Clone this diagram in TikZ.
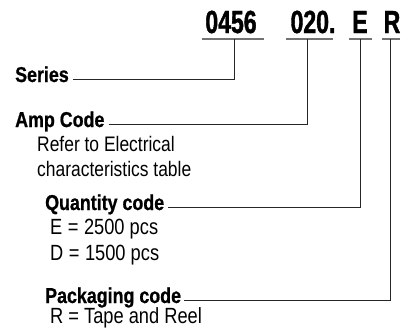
\documentclass[tikz,border=0pt]{standalone}
\usepackage{fontspec}
\setmainfont{Liberation Sans}[FakeStretch=0.83, BoldFeatures={FakeBold=0.8}]
\newfontfamily\codefont{Liberation Sans}[FakeStretch=0.72, BoldFeatures={FakeBold=1.2}]
\newcommand{\eqsp}{\hspace{5.5pt}=\hspace{5.5pt}}
\begin{document}
\begin{tikzpicture}[x=1pt,y=1pt,
  code/.style={font=\codefont\bfseries\fontsize{32}{34}\selectfont, inner sep=0pt, anchor=base},
  uline/.style={fill=black!55, draw=none, inner sep=0pt, minimum height=2pt},
  lbl/.style={font=\bfseries\fontsize{21.5}{23}\selectfont, inner sep=0pt, anchor=base west},
  txt/.style={font=\fontsize{21}{23}\selectfont, inner sep=0pt, anchor=base west},
  txtb/.style={font=\fontsize{22}{24}\selectfont, inner sep=0pt, anchor=base west},
  conn/.style={draw=black!85, line width=0.9pt}
]
\useasboundingbox (0,0) rectangle (402,-327);
% top code
\node[code] (t1) at (231,-33) {0456};
\node[code] (t2) at (313,-33) {020.};
\node[code] (t3) at (360,-33) {E};
\node[code] (t4) at (392,-33) {R};
\node[uline, minimum width=62pt] (u1) at (233,-39) {};
\node[uline, minimum width=47pt] (u2) at (309.5,-39) {};
\node[uline, minimum width=23pt] (u3) at (360.5,-39) {};
\node[uline, minimum width=18pt] (u4) at (391,-39) {};
% labels
\node[lbl] (series) at (15,-82) {Series};
\node[lbl] (amp) at (15,-127) {Amp Code};
\node[txt] (amp1) at (37,-151) {Refer to Electrical};
\node[txt] (amp2) at (37,-176) {characteristics table};
\node[lbl] (qty) at (45,-210) {Quantity code};
\node[txtb] (qty1) at (50,-234) {E\eqsp{}2500 pcs};
\node[txtb] (qty2) at (50,-260) {D\eqsp{}1500 pcs};
\node[lbl] (pkg) at (45,-303) {Packaging code};
\node[txtb] (pkg1) at (50,-323) {R = Tape and Reel};
% connectors
\coordinate (v1) at (234,-39);
\coordinate (v2) at (307,-39);
\coordinate (v3) at (360,-39);
\coordinate (v4) at (390,-39);
\draw[conn] ([xshift=4pt]series.mid east) -| (v1);
\draw[conn] ([xshift=4pt]amp.mid east) -| (v2);
\draw[conn] ([xshift=4pt]qty.mid east) -| (v3);
\draw[conn] ([xshift=3pt]pkg.mid east) -| (v4);
\end{tikzpicture}
\end{document}
